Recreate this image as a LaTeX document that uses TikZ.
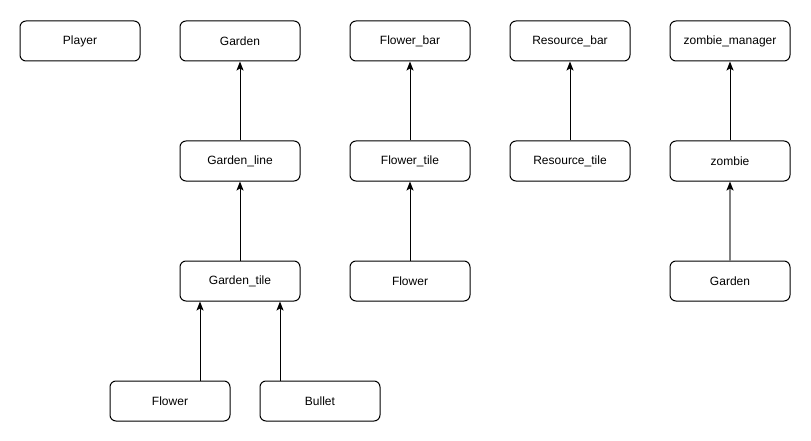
\documentclass[tikz,border=0pt]{standalone}
\usepackage{fontspec}
\setmainfont{Liberation Sans}
\usetikzlibrary{arrows.meta}
\begin{document}
\begin{tikzpicture}[x=1pt,y=-1pt,
  box/.style={draw=black,line width=1pt,rounded corners=6pt,minimum width=120pt,minimum height=40pt,inner sep=0pt,font=\fontsize{12}{14}\selectfont,fill=white},
  arr/.style={draw=black,line width=1pt,-{Stealth[length=9pt,width=7pt,inset=2pt]}},
  garr/.style={draw=gray,line width=1.5pt,-{Stealth[length=9pt,width=7pt,inset=2pt,color=black]}}]
\useasboundingbox (0,0) rectangle (811,441);
\node[box] (player) at (80,41) {Player};
\node[box] (garden) at (240,41) {Garden};
\node[box] (flowerbar) at (410,41) {Flower\_bar};
\node[box] (resbar) at (570,41) {Resource\_bar};
\node[box] (zman) at (730,41) {zombie\_manager};
\node[box] (gline) at (240,161) {Garden\_line};
\node[box] (ftile) at (410,161) {Flower\_tile};
\node[box] (rtile) at (570,161) {Resource\_tile};
\node[box] (zombie) at (730,161) {zombie};
\node[box] (gtile) at (240,281) {Garden\_tile};
\node[box] (flower) at (410,281) {Flower};
\node[box] (garden2) at (730,281) {Garden};
\node[box] (flower2) at (170,401) {Flower};
\node[box] (bullet) at (320,401) {Bullet};
\draw[arr] (gline) -- (garden);
\draw[arr] (gtile) -- (gline);
\draw[arr] (ftile) -- (flowerbar);
\draw[arr] (flower) -- (ftile);
\draw[arr] (rtile) -- (resbar);
\draw[arr] (zombie) -- (zman);
\draw[garr] (garden2) -- (zombie);
\draw[arr] (flower2.north -| 200,0) -- (gtile.south -| 200,0);
\draw[arr] (bullet.north -| 280,0) -- (gtile.south -| 280,0);
\end{tikzpicture}
\end{document}
